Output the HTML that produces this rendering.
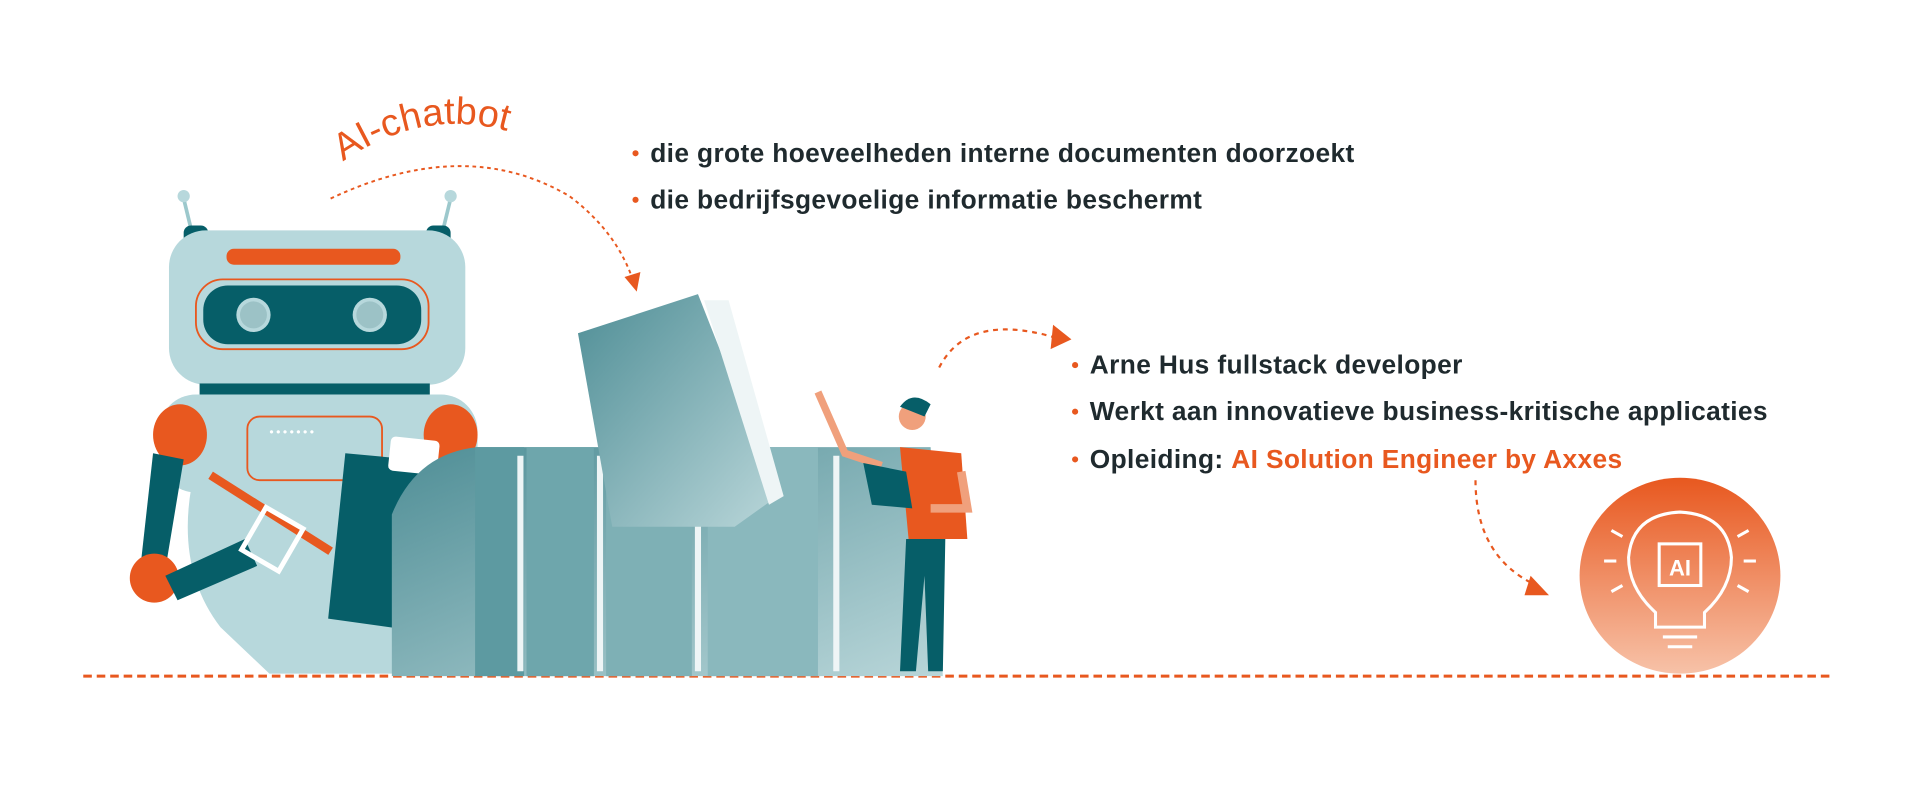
<!DOCTYPE html>
<html><head><meta charset="utf-8"><style>
html,body{margin:0;padding:0;background:#fff;width:1920px;height:800px;overflow:hidden}
svg{display:block}
text{font-family:"Liberation Sans",sans-serif}
</style></head><body>
<svg width="1920" height="800" viewBox="0 0 1568 653" xmlns="http://www.w3.org/2000/svg">
<defs>
<linearGradient id="fg" x1="0" y1="0" x2="1" y2="1"><stop offset="0" stop-color="#4f8e96"/><stop offset="1" stop-color="#b9d6d9"/></linearGradient>
<linearGradient id="bulb" x1="0" y1="0" x2="0" y2="1"><stop offset="0" stop-color="#e8581f"/><stop offset="1" stop-color="#f7c2a8"/></linearGradient>
<path id="arc" d="M280,132 Q370,70 470,132"/>
</defs>
<line x1="68" y1="552" x2="1497" y2="552" stroke="#e8581f" stroke-width="2.5" stroke-dasharray="7,4"/>
<text font-size="31" fill="#e8581f"><textPath href="#arc" startOffset="0">AI-chatbot</textPath></text>
<path d="M270,162 Q380,110 465,160 Q505,190 518,232" fill="none" stroke="#e8581f" stroke-width="1.6" stroke-dasharray="3,3"/>
<path d="M510,226 L520,238 L523,222" fill="#e8581f"/>
<!-- robot -->
<line x1="150" y1="162" x2="158" y2="195" stroke="#9cc8cc" stroke-width="3"/><circle cx="150" cy="160" r="5" fill="#b7d8dc"/>
<line x1="368" y1="162" x2="360" y2="195" stroke="#9cc8cc" stroke-width="3"/><circle cx="368" cy="160" r="5" fill="#b7d8dc"/>
<rect x="150" y="184" width="20" height="28" rx="6" fill="#065e68"/><rect x="348" y="184" width="20" height="28" rx="6" fill="#065e68"/>
<path d="M180,512 Q140,460 160,380 L360,380 Q395,460 330,550 L220,550 Z" fill="#b7d8dc"/>
<rect x="138" y="188" width="242" height="126" rx="30" fill="#b7d8dc"/>
<rect x="185" y="203" width="142" height="13" rx="6" fill="#e8581f"/>
<rect x="160" y="228" width="190" height="57" rx="22" fill="none" stroke="#e8581f" stroke-width="1.5"/>
<rect x="166" y="233" width="178" height="48" rx="20" fill="#065e68"/>
<circle cx="207" cy="257" r="14" fill="#b7d8dc"/><circle cx="207" cy="257" r="11" fill="#9cc2c6"/>
<circle cx="302" cy="257" r="14" fill="#b7d8dc"/><circle cx="302" cy="257" r="11" fill="#9cc2c6"/>
<rect x="163" y="313" width="188" height="9" fill="#065e68"/>
<rect x="130" y="322" width="260" height="80" rx="30" fill="#b7d8dc"/>
<rect x="202" y="340" width="110" height="52" rx="10" fill="none" stroke="#e8581f" stroke-width="1.5"/>
<text x="220" y="356" font-size="10" fill="#fff" letter-spacing="2">•••••••</text>
<ellipse cx="147" cy="355" rx="22" ry="25" fill="#e8581f"/><ellipse cx="368" cy="355" rx="22" ry="25" fill="#e8581f"/>
<path d="M125,370 L115,460 L135,465 L150,375 Z" fill="#065e68"/>
<ellipse cx="126" cy="472" rx="20" ry="20" fill="#e8581f"/>
<path d="M135,470 L200,440 L210,462 L145,490 Z" fill="#065e68"/>
<path d="M172,388 L270,450" stroke="#e8581f" stroke-width="7"/>
<rect x="205" y="420" width="35" height="40" fill="none" stroke="#fff" stroke-width="4" transform="rotate(30 222 440)"/>
<rect x="370" y="380" width="22" height="80" fill="#065e68"/>
<ellipse cx="388" cy="475" rx="20" ry="22" fill="#e8581f"/>
<path d="M282,370 L390,380 L375,520 L268,505 Z" fill="#065e68"/>
<rect x="318" y="358" width="40" height="28" rx="4" fill="#fff" transform="rotate(6 338 372)"/>
<path d="M355,455 L385,455 L380,495 L350,495 Z" fill="#e8581f"/>
<!-- folders -->
<path d="M320,552 L320,420 Q340,370 390,365 L760,365 L770,552 Z" fill="url(#fg)"/>
<rect x="388" y="365" width="40" height="187" fill="#5d9aa1"/>
<rect x="430" y="365" width="55" height="187" fill="#6ea6ac"/>
<rect x="495" y="365" width="70" height="187" fill="#7eb0b5"/>
<rect x="578" y="365" width="90" height="187" fill="#8ab8bd"/>
<line x1="425" y1="372" x2="425" y2="548" stroke="#eef5f6" stroke-width="5"/>
<line x1="490" y1="372" x2="490" y2="548" stroke="#eef5f6" stroke-width="5"/>
<line x1="570" y1="372" x2="570" y2="548" stroke="#eef5f6" stroke-width="5"/>
<line x1="683" y1="372" x2="683" y2="548" stroke="#eef5f6" stroke-width="5"/>
<path d="M472,272 L570,240 L635,405 L600,430 L500,430 Z" fill="url(#fg)"/>
<path d="M575,245 L595,245 L640,405 L628,412 Z" fill="#eef5f6"/>
<!-- person -->
<path d="M767,300 Q790,255 860,275" fill="none" stroke="#e8581f" stroke-width="1.8" stroke-dasharray="4,4"/>
<path d="M860,265 L875,277 L858,285 Z" fill="#e8581f"/>
<circle cx="745" cy="340" r="11" fill="#f0a07c"/><path d="M735,332 Q745,318 760,330 L755,340 Z" fill="#065e68"/>
<path d="M668,320 L690,370 L720,380" stroke="#f0a07c" stroke-width="6" fill="none"/>
<path d="M735,365 L785,370 L790,440 L742,440 Z" fill="#e8581f"/>
<path d="M705,378 L740,385 L745,415 L712,412 Z" fill="#065e68"/>
<path d="M740,440 L772,440 L770,548 L758,548 L755,470 L748,548 L735,548 Z" fill="#065e68"/>
<path d="M785,385 L790,415 L760,415" stroke="#f0a07c" stroke-width="7" fill="none"/>
<!-- bullets -->
<g font-size="21.5" font-weight="bold" fill="#1f2a2e" letter-spacing="0.3">
<circle cx="519" cy="125" r="2.5" fill="#e8581f"/><text x="531" y="132">die grote hoeveelheden interne documenten doorzoekt</text>
<circle cx="519" cy="163" r="2.5" fill="#e8581f"/><text x="531" y="170">die bedrijfsgevoelige informatie beschermt</text>
<circle cx="878" cy="298" r="2.5" fill="#e8581f"/><text x="890" y="305">Arne Hus fullstack developer</text>
<circle cx="878" cy="336" r="2.5" fill="#e8581f"/><text x="890" y="343">Werkt aan innovatieve business-kritische applicaties</text>
<circle cx="878" cy="375" r="2.5" fill="#e8581f"/><text x="890" y="382">Opleiding: <tspan fill="#e8581f">AI Solution Engineer by Axxes</tspan></text>
</g>
<path d="M1205,392 Q1205,455 1255,478" fill="none" stroke="#e8581f" stroke-width="1.8" stroke-dasharray="4,4"/>
<path d="M1250,470 L1265,486 L1245,486 Z" fill="#e8581f"/>
<!-- bulb -->
<ellipse cx="1372" cy="470" rx="82" ry="80" fill="url(#bulb)"/>
<g fill="none" stroke="#fff" stroke-width="2.5">
<path d="M1352,500 Q1330,480 1330,455 Q1333,420 1372,418 Q1411,420 1414,455 Q1414,480 1392,500 L1392,512 L1352,512 Z"/>
<rect x="1355" y="444" width="34" height="34"/>
<line x1="1358" y1="520" x2="1386" y2="520"/><line x1="1362" y1="528" x2="1382" y2="528"/>
<line x1="1320" y1="458" x2="1310" y2="458"/><line x1="1424" y1="458" x2="1434" y2="458"/>
<line x1="1325" y1="438" x2="1316" y2="433"/><line x1="1419" y1="438" x2="1428" y2="433"/>
<line x1="1325" y1="478" x2="1316" y2="483"/><line x1="1419" y1="478" x2="1428" y2="483"/>
</g>
<text x="1372" y="470" font-size="18" fill="#fff" font-weight="bold" text-anchor="middle">AI</text>
</svg>
</body></html>
